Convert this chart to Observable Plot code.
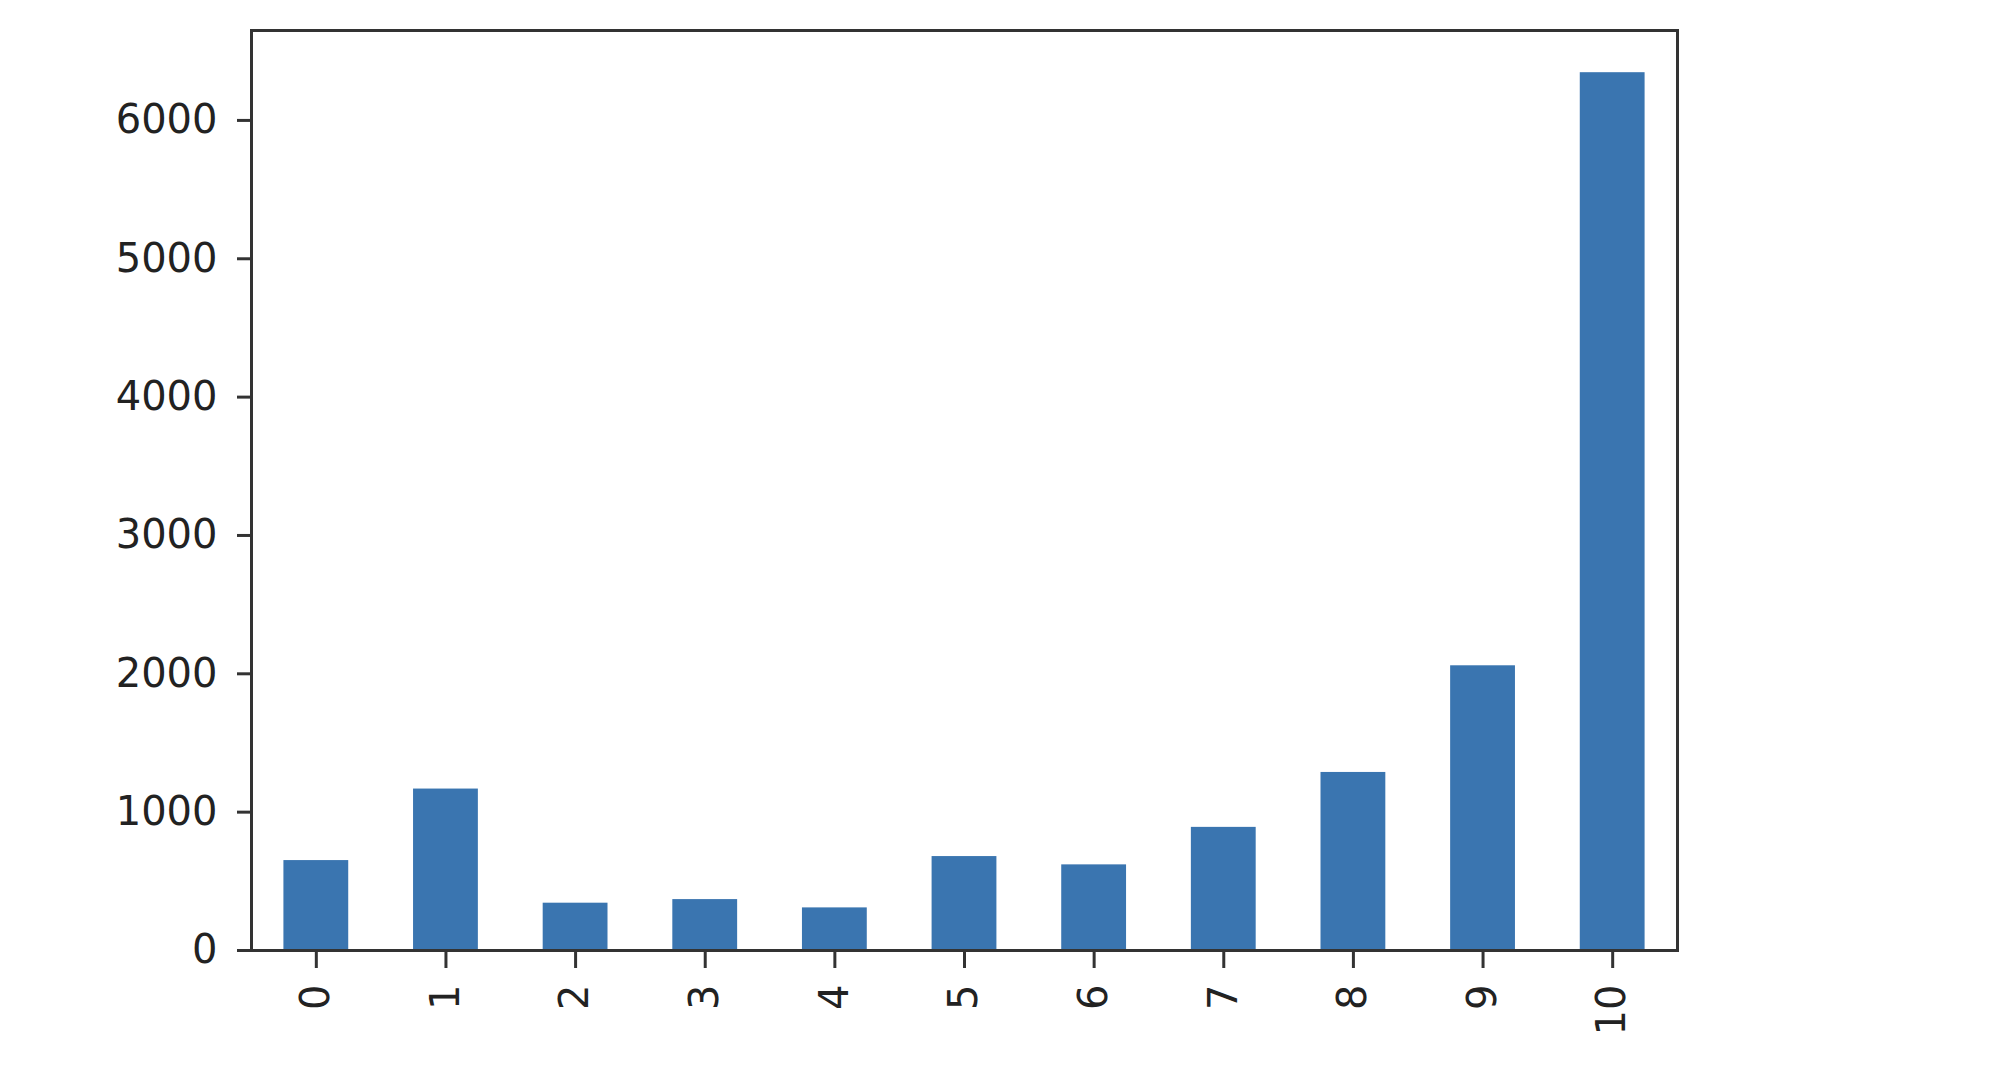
<!DOCTYPE html>
<html>
<head>
<meta charset="utf-8">
<script src="https://cdn.jsdelivr.net/npm/d3@7"></script>
<script src="https://cdn.jsdelivr.net/npm/@observablehq/plot@0.6"></script>
<style>
  html, body { margin: 0; padding: 0; background: #fff; }
  #chart { width: 2000px; height: 1080px; }
</style>
</head>
<body>
<div id="chart"></div>
<script>
const categories = ["0", "1", "2", "3", "4", "5", "6", "7", "8", "9", "10"];
const counts = [650, 1167, 342, 368, 308, 679, 619, 890, 1287, 2058, 6345];
const yTicks = [0, 1000, 2000, 3000, 4000, 5000, 6000];
const yMax = 6650;

const data = categories.map((c, i) => ({category: c, count: counts[i]}));

const chart = Plot.plot({
  width: 2000,
  height: 1080,
  marginLeft: 251,
  marginRight: 323,
  marginTop: 30,
  marginBottom: 130,
  style: {fontFamily: "DejaVu Sans", fontSize: "40px", color: "#222", background: "#fff"},
  x: {type: "band", domain: categories, paddingInner: 0.5, paddingOuter: 0.25, round: false},
  y: {domain: [0, yMax]},
  marks: [
    Plot.barY(data, {x: "category", y: "count", fill: "#3a75b0"}),
    Plot.axisY({ticks: yTicks, tickSize: 14, tickPadding: 20, tickFormat: d => String(d), label: null, stroke: "#333", strokeWidth: 3}),
    Plot.axisX({tickSize: 18, tickPadding: 16, tickRotate: -90, label: null, stroke: "#333", strokeWidth: 3}),
    Plot.frame({stroke: "#333", strokeWidth: 3})
  ]
});
document.getElementById("chart").appendChild(chart);
</script>
</body>
</html>
